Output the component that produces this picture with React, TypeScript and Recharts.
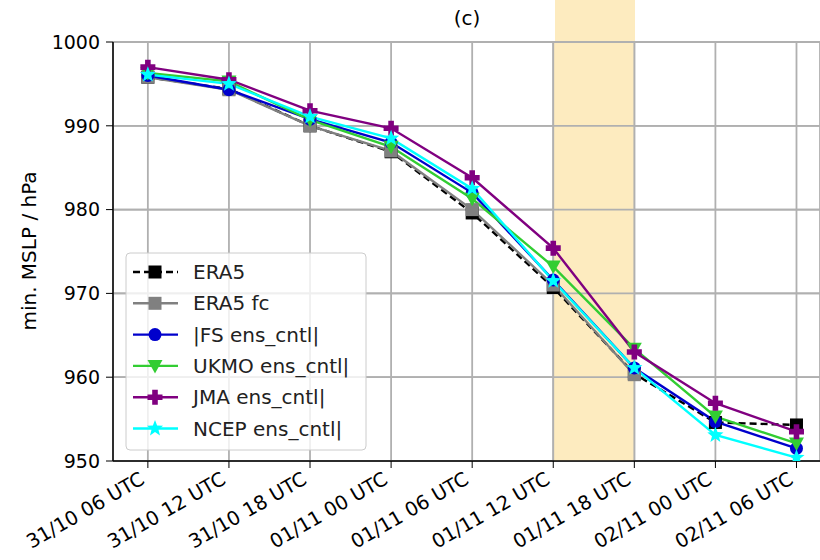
import React from 'react';
import {
    CartesianGrid,
    Line,
    LineChart,
    ReferenceArea,
    ReferenceLine,
    XAxis,
    YAxis,
} from 'recharts';

const categories = [
    '31/10 06 UTC',
    '31/10 12 UTC',
    '31/10 18 UTC',
    '01/11 00 UTC',
    '01/11 06 UTC',
    '01/11 12 UTC',
    '01/11 18 UTC',
    '02/11 00 UTC',
    '02/11 06 UTC',
];
const era5 = [995.8, 994.4, 990.0, 986.9, 979.6, 970.7, 960.4, 954.6, 954.3];
const era5fc = [995.8, 994.3, 990.0, 987.0, 980.0, 971.0, 960.3, null, null];
const ifs = [996.0, 994.3, 990.8, 988.0, 982.0, 971.6, 961.1, 954.7, 951.5];
const ukmo = [996.3, 995.3, 990.7, 987.5, 981.3, 973.2, 963.4, 955.3, 952.1];
const jma = [997.0, 995.5, 991.8, 989.7, 983.8, 975.4, 963.0, 956.9, 953.5];
const ncep = [996.1, 995.0, 991.1, 988.5, 982.5, 971.5, 961.1, 953.1, 950.4];
const yTicks = [950, 960, 970, 980, 990, 1000];

const FONT = "'DejaVu Sans', sans-serif";
const GRID = '#b0b0b0';
const BAND = '#fdebbf';

const data = categories.map((c, i) => ({
    idx: i,
    era5: era5[i],
    era5fc: era5fc[i],
    ifs: ifs[i],
    ukmo: ukmo[i],
    jma: jma[i],
    ncep: ncep[i],
}));

type Shape = 'square' | 'circle' | 'tri' | 'plus' | 'star';

function Marker({ shape, cx, cy, color }: { shape: Shape; cx: number; cy: number; color: string }) {
    if (shape === 'square') return <rect x={cx - 6.5} y={cy - 6.5} width={13} height={13} fill={color} />;
    if (shape === 'circle') return <circle cx={cx} cy={cy} r={6.5} fill={color} />;
    if (shape === 'tri')
        return <polygon points={`${cx - 7.5},${cy - 6} ${cx + 7.5},${cy - 6} ${cx},${cy + 7.5}`} fill={color} />;
    if (shape === 'plus') {
        const a = 2.8;
        const b = 7.5;
        const pts = [
            [-a, -b], [a, -b], [a, -a], [b, -a], [b, a], [a, a],
            [a, b], [-a, b], [-a, a], [-b, a], [-b, -a], [-a, -a],
        ].map(([x, y]) => `${cx + x},${cy + y}`).join(' ');
        return <polygon points={pts} fill={color} />;
    }
    const pts: string[] = [];
    for (let k = 0; k < 10; k++) {
        const r = k % 2 === 0 ? 8.5 : 3.6;
        const ang = -Math.PI / 2 + (k * Math.PI) / 5;
        pts.push(`${cx + r * Math.cos(ang)},${cy + r * Math.sin(ang)}`);
    }
    return <polygon points={pts.join(' ')} fill={color} />;
}

const makeDot = (shape: Shape, color: string) => (props: any) => {
    const { cx, cy, value, index } = props;
    if (value == null || cx == null || cy == null) return <g key={index} />;
    return <Marker key={index} shape={shape} cx={cx} cy={cy} color={color} />;
};

const series = [
    { key: 'era5', name: 'ERA5', color: '#000000', shape: 'square' as Shape, dash: '7 4' },
    { key: 'era5fc', name: 'ERA5 fc', color: '#808080', shape: 'square' as Shape },
    { key: 'ifs', name: '|FS ens_cntl|', color: '#0000cc', shape: 'circle' as Shape },
    { key: 'ukmo', name: 'UKMO ens_cntl|', color: '#32cd32', shape: 'tri' as Shape },
    { key: 'jma', name: 'JMA ens_cntl|', color: '#800080', shape: 'plus' as Shape },
    { key: 'ncep', name: 'NCEP ens_cntl|', color: '#00ffff', shape: 'star' as Shape },
];

// rotated category label, top-right corner just under the tick
const XTick = ({ x, payload }: any) => (
    <text
        x={0}
        y={0}
        textAnchor="end"
        transform={`translate(${x - 2},483) rotate(-30)`}
        fontSize={19.5}
        fill="#000"
        fontFamily={FONT}
    >
        {categories[payload.value]}
    </text>
);

function LegendBox() {
    return (
        <svg
            width={242}
            height={199}
            style={{ position: 'absolute', left: 125, top: 252, overflow: 'visible' }}
        >
            <rect x={1} y={1} width={240} height={197} rx={4} fill="rgba(255,255,255,0.8)" stroke="#cccccc" />
            {series.map((s, i) => {
                const y = 20 + i * 31.3;
                return (
                    <g key={s.key}>
                        <line x1={8} x2={53} y1={y} y2={y} stroke={s.color} strokeWidth={2.4} strokeDasharray={s.dash} />
                        <Marker shape={s.shape} cx={30} cy={y} color={s.color} />
                        <text x={68} y={y + 7} fontSize={20} fontFamily={FONT} fill="#222">
                            {s.name}
                        </text>
                    </g>
                );
            })}
        </svg>
    );
}

export default function App() {
    return (
        <div style={{ position: 'absolute', left: 0, top: 0, width: 820, height: 560, background: '#fff', fontFamily: FONT }}>
            <div style={{ position: 'absolute', left: 555, top: 0, width: 80, height: 42, background: BAND }} />
            <div style={{ position: 'absolute', left: 60, top: 0, height: 4, width: 50, overflow: 'hidden' }}>
                <div style={{ position: 'absolute', right: 6, top: -20, fontSize: 19, color: '#000' }}>950</div>
            </div>
            <div
                style={{ position: 'absolute', left: 0, top: 6, width: 934, textAlign: 'center', fontSize: 20, color: '#000' }}
            >
                (c)
            </div>
            <div style={{ position: 'absolute', left: 0, top: 0 }}>
                <LineChart
                    width={820}
                    height={560}
                    data={data}
                    margin={{ top: 42, right: 0, left: 0, bottom: 0 }}
                    style={{ fontFamily: FONT }}
                >
                    <ReferenceArea x1={5} x2={6} y1={950} y2={1000} fill={BAND} fillOpacity={1} stroke="none" ifOverflow="hidden" />
                    <CartesianGrid stroke={GRID} strokeWidth={1.8} />
                    {yTicks.slice(1).map((t) => (
                        <ReferenceLine key={`h${t}`} y={t} stroke={GRID} strokeWidth={1.8} />
                    ))}
                    <ReferenceLine x={5} stroke={GRID} strokeWidth={1.8} />
                    <ReferenceLine x={6} stroke={GRID} strokeWidth={1.8} />
                    <XAxis
                        dataKey="idx"
                        type="number"
                        domain={[-0.43, 8.29]}
                        ticks={[0, 1, 2, 3, 4, 5, 6, 7, 8]}
                        allowDataOverflow
                        height={99}
                        tickSize={7}
                        tick={<XTick />}
                        axisLine={{ stroke: '#000', strokeWidth: 1.5 }}
                        tickLine={{ stroke: '#000' }}
                        interval={0}
                    />
                    <YAxis
                        domain={[950, 1000]}
                        ticks={yTicks}
                        allowDataOverflow
                        width={113}
                        tickSize={7}
                        tickMargin={6}
                        tick={{ fontSize: 19, fill: '#000', fontFamily: FONT }}
                        axisLine={{ stroke: '#000', strokeWidth: 1.5 }}
                        tickLine={{ stroke: '#000' }}
                        label={{
                            content: () => (
                                <text
                                    x={36}
                                    y={251}
                                    transform="rotate(-90 36 251)"
                                    textAnchor="middle"
                                    fontSize={20}
                                    fill="#000"
                                    fontFamily={FONT}
                                >
                                    min. MSLP / hPa
                                </text>
                            ),
                        }}
                    />
                    {series.map((s) => (
                        <Line
                            key={s.key}
                            type="linear"
                            dataKey={s.key}
                            name={s.name}
                            stroke={s.color}
                            strokeWidth={2.4}
                            strokeDasharray={s.dash}
                            dot={makeDot(s.shape, s.color)}
                            activeDot={false}
                            connectNulls={false}
                            isAnimationActive={false}
                        />
                    ))}
                </LineChart>
            </div>
            <LegendBox />
        </div>
    );
}
